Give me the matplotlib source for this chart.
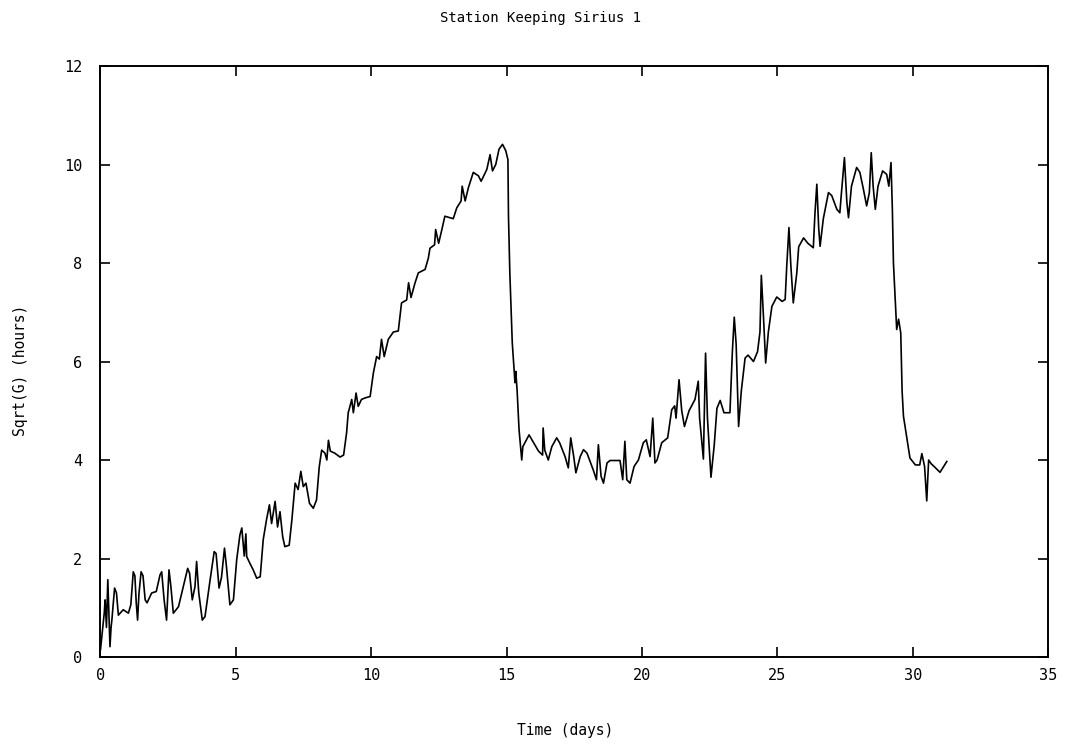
import matplotlib
matplotlib.use("Agg")
import matplotlib.pyplot as plt

# time in days
time_days = [
    0.00, 0.14, 0.17, 0.22, 0.27, 0.31, 0.35, 0.39, 0.42, 0.52, 0.59, 0.66, 0.84, 1.03,
    1.12, 1.21, 1.27, 1.32, 1.37, 1.42, 1.50, 1.57, 1.65, 1.72, 1.89, 2.06, 2.20, 2.26,
    2.35, 2.44, 2.53, 2.60, 2.69, 2.88, 3.06, 3.22, 3.29, 3.39, 3.49, 3.55, 3.63, 3.76,
    3.86, 4.05, 4.20, 4.27, 4.38, 4.47, 4.58, 4.65, 4.78, 4.91, 5.03, 5.15, 5.22, 5.31,
    5.37, 5.40, 5.52, 5.64, 5.77, 5.90, 6.01, 6.13, 6.24, 6.32, 6.45, 6.54, 6.63, 6.73,
    6.81, 6.97, 7.07, 7.19, 7.30, 7.40, 7.49, 7.59, 7.72, 7.86, 7.98, 8.08, 8.17, 8.29,
    8.36, 8.42, 8.49, 8.65, 8.85, 8.98, 9.09, 9.15, 9.22, 9.28, 9.34, 9.44, 9.52, 9.64,
    9.77, 9.96, 10.08, 10.20, 10.30, 10.38, 10.48, 10.63, 10.82, 11.00, 11.12, 11.31,
    11.38, 11.47, 11.62, 11.74, 11.99, 12.11, 12.17, 12.34, 12.38, 12.49, 12.61, 12.72,
    13.03, 13.16, 13.32, 13.36, 13.47, 13.59, 13.77, 13.96, 14.06, 14.27, 14.39, 14.48,
    14.60, 14.72, 14.85, 14.97, 15.05, 15.07, 15.12, 15.21, 15.31, 15.34, 15.39, 15.46,
    15.56, 15.60, 15.83, 16.00, 16.18, 16.33, 16.35, 16.41, 16.54, 16.67, 16.85, 16.96,
    17.16, 17.28, 17.37, 17.48, 17.56, 17.72, 17.84, 17.97, 18.20, 18.32, 18.39, 18.49,
    18.58, 18.71, 18.82, 19.19, 19.29, 19.37, 19.44, 19.56, 19.71, 19.87, 20.05, 20.16,
    20.30, 20.40, 20.48, 20.56, 20.73, 20.95, 21.10, 21.21, 21.26, 21.37, 21.47, 21.57,
    21.74, 21.96, 22.08, 22.13, 22.27, 22.35, 22.42, 22.55, 22.67, 22.77, 22.89, 23.03,
    23.25, 23.34, 23.41, 23.48, 23.57, 23.67, 23.81, 23.92, 24.12, 24.27, 24.36, 24.41,
    24.49, 24.57, 24.67, 24.80, 24.98, 25.18, 25.29, 25.35, 25.43, 25.50, 25.59, 25.72,
    25.79, 25.97, 26.13, 26.33, 26.39, 26.46, 26.53, 26.58, 26.70, 26.89, 27.01, 27.20,
    27.31, 27.37, 27.48, 27.57, 27.63, 27.74, 27.93, 28.05, 28.18, 28.30, 28.40, 28.47,
    28.54, 28.62, 28.72, 28.89, 29.04, 29.12, 29.20, 29.25, 29.29, 29.35, 29.41, 29.48,
    29.56, 29.61, 29.66, 29.80, 29.90, 30.10, 30.26, 30.34, 30.44, 30.52, 30.59, 30.69,
    30.79, 31.01, 31.26,
]

# sqrt(G) in hours
sqrt_g_hours = [
    0.15, 0.90, 1.16, 0.60, 1.57, 0.90, 0.21, 0.60, 0.75, 1.40, 1.30, 0.85, 0.96, 0.89,
    1.06, 1.73, 1.65, 1.10, 0.75, 1.28, 1.73, 1.65, 1.16, 1.10, 1.30, 1.33, 1.67, 1.73,
    1.16, 0.75, 1.77, 1.43, 0.89, 1.02, 1.43, 1.80, 1.70, 1.16, 1.43, 1.94, 1.30, 0.75,
    0.82, 1.57, 2.14, 2.10, 1.40, 1.62, 2.21, 1.85, 1.06, 1.16, 1.97, 2.48, 2.62, 2.05,
    2.50, 2.04, 1.90, 1.77, 1.60, 1.63, 2.38, 2.78, 3.09, 2.71, 3.16, 2.64, 2.95, 2.44,
    2.24, 2.27, 2.79, 3.53, 3.40, 3.77, 3.46, 3.53, 3.12, 3.02, 3.19, 3.86, 4.20, 4.14,
    4.00, 4.40, 4.18, 4.14, 4.06, 4.10, 4.55, 4.96, 5.10, 5.23, 4.96, 5.36, 5.09, 5.23,
    5.26, 5.29, 5.77, 6.10, 6.05, 6.45, 6.10, 6.45, 6.60, 6.62, 7.19, 7.25,
    7.60, 7.30, 7.60, 7.80, 7.87, 8.10, 8.30, 8.37, 8.68, 8.40, 8.68, 8.95,
    8.90, 9.12, 9.26, 9.56, 9.26, 9.53, 9.84, 9.77, 9.66, 9.90, 10.20, 9.87,
    10.00, 10.31, 10.41, 10.28, 10.10, 8.95, 7.80, 6.38, 5.57, 5.80, 5.40, 4.62,
    4.00, 4.27, 4.51, 4.35, 4.18, 4.10, 4.65, 4.20, 4.00, 4.27, 4.45, 4.35,
    4.07, 3.84, 4.45, 4.07, 3.74, 4.07, 4.21, 4.14, 3.80, 3.60, 4.31, 3.67,
    3.53, 3.94, 3.99, 3.99, 3.60, 4.38, 3.60, 3.53, 3.87, 4.00, 4.35, 4.41,
    4.07, 4.85, 3.94, 4.00, 4.35, 4.45, 5.02, 5.10, 4.85, 5.63, 5.00, 4.68,
    5.00, 5.23, 5.60, 4.85, 4.02, 6.17, 4.85, 3.65, 4.30, 5.05, 5.21, 4.96,
    4.96, 6.20, 6.90, 6.35, 4.68, 5.40, 6.07, 6.13, 6.00, 6.20, 6.60, 7.75,
    6.90, 5.97, 6.60, 7.12, 7.31, 7.22, 7.26, 7.95, 8.72, 7.95, 7.19, 7.80,
    8.33, 8.51, 8.40, 8.31, 9.00, 9.60, 8.70, 8.34, 8.90, 9.43, 9.37, 9.09,
    9.02, 9.43, 10.14, 9.23, 8.92, 9.56, 9.94, 9.84, 9.50, 9.16, 9.43, 10.24,
    9.56, 9.09, 9.56, 9.87, 9.80, 9.56, 10.04, 9.09, 8.00, 7.33, 6.65, 6.86,
    6.58, 5.40, 4.89, 4.40, 4.04, 3.90, 3.90, 4.13, 3.87, 3.17, 4.00, 3.92,
    3.87, 3.75, 3.97,
]

x_ticks = [0, 5, 10, 15, 20, 25, 30, 35]
y_ticks = [0, 2, 4, 6, 8, 10, 12]

plt.rcParams['font.family'] = 'DejaVu Sans Mono'
plt.rcParams['font.size'] = 10

fig = plt.figure(figsize=(10.76, 7.46), dpi=100)
ax = fig.add_axes([0.0934, 0.1193, 0.8806, 0.7922])

ax.plot(time_days, sqrt_g_hours, color='black', linewidth=1.2)

ax.set_xlim(0, 35)
ax.set_ylim(0, 12)
ax.set_xticks(x_ticks)
ax.set_yticks(y_ticks)
ax.tick_params(direction='in', length=7, width=1.2, top=True, right=True, labelsize=11)
ax.tick_params(axis='x', pad=8)
ax.tick_params(axis='y', pad=13)
for s in ax.spines.values():
    s.set_linewidth(1.4)

fig.text(0.502, 0.976, 'Station Keeping Sirius 1', ha='center', va='center', fontsize=10)
fig.text(0.525, 0.021, 'Time (days)', ha='center', va='center', fontsize=10.5)
fig.text(0.019, 0.504, 'Sqrt(G) (hours)', ha='center', va='center', rotation=90, fontsize=10.5)

fig.savefig('out.png', dpi=100)
